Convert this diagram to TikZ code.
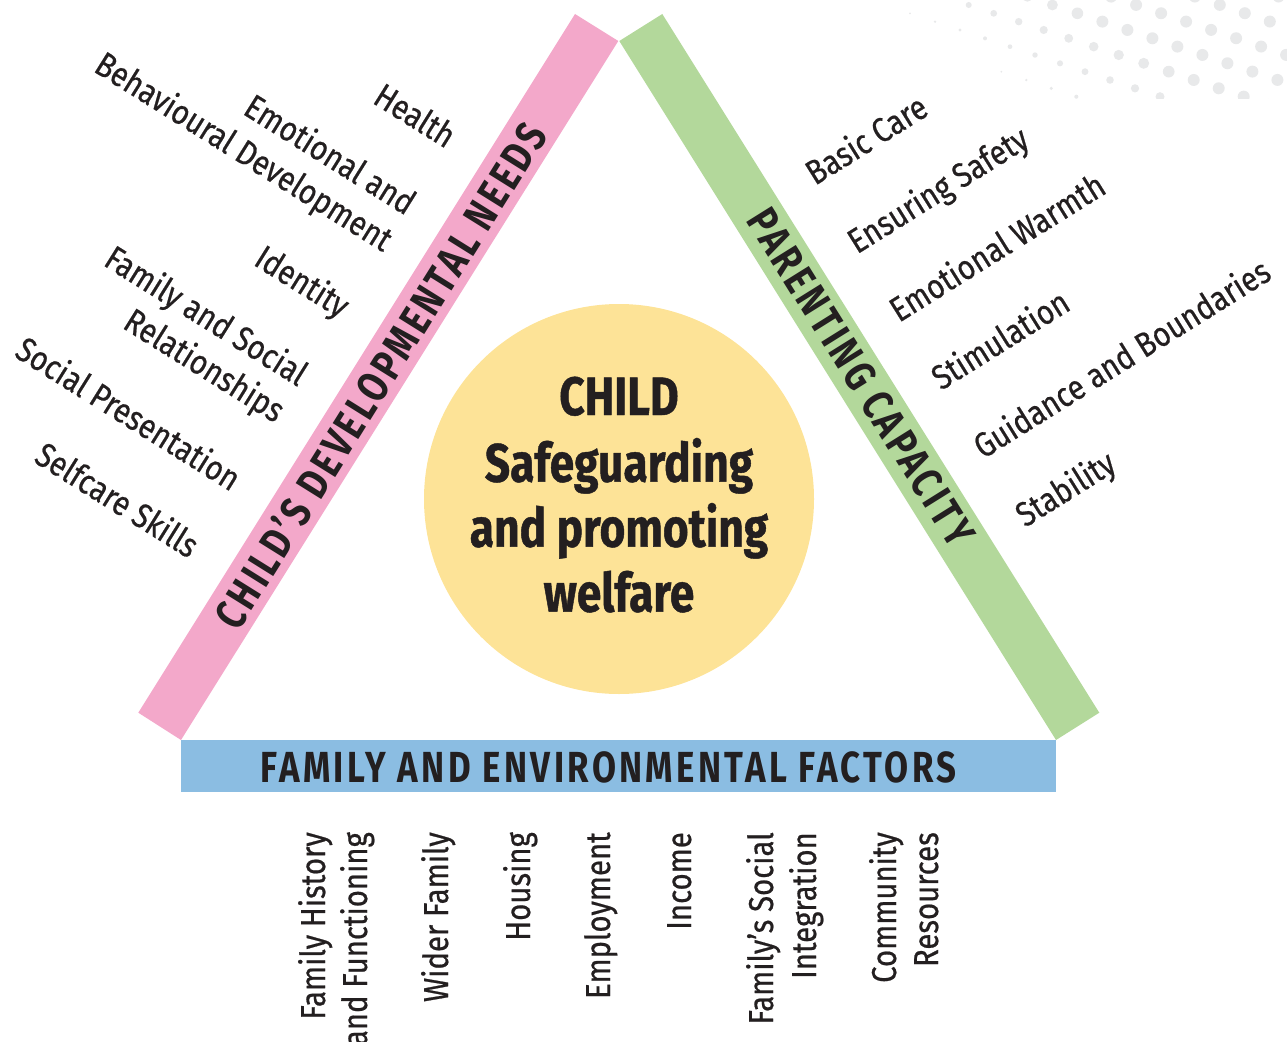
\documentclass[tikz,border=0pt]{standalone}
\usepackage{fontspec}
\setmainfont{Fira Sans}
\newfontfamily\labf{Fira Sans}[FakeStretch=0.85, FakeBold=0.6]
\newfontfamily\condb{Fira Sans}[FakeStretch=0.82, FakeBold=0.8]
\newfontfamily\capsb{Fira Sans}[FakeStretch=0.80, LetterSpace=7.8]
\definecolor{pinkbar}{HTML}{F3A8CA}
\definecolor{greenbar}{HTML}{B3D89B}
\definecolor{bluebar}{HTML}{8BBDE2}
\definecolor{sunfill}{HTML}{FDE397}
\definecolor{ink}{HTML}{231F20}
\definecolor{dotc}{HTML}{E8E9EA}
\begin{document}
\begin{tikzpicture}[x=1pt,y=-1pt,
  lbl/.style={font=\labf\fontsize{34.5}{40}\selectfont, text=ink, inner sep=0pt},
  leftlbl/.style={lbl, rotate=-32, anchor=base east},
  rightlbl/.style={lbl, rotate=32, anchor=base west},
  botlbl/.style={lbl, rotate=90, anchor=base east},
  bartext/.style={font=\capsb\bfseries\fontsize{43.5}{48}\selectfont, text=ink, inner sep=0pt},
  centertext/.style={font=\condb\bfseries\fontsize{54}{60}\selectfont, text=ink, inner sep=0pt, anchor=base}]
\path[use as bounding box] (0,0) rectangle (1287,1041);
% dotted halftone corner
\begin{scope}
\clip (880,0) rectangle (1287,98);
\foreach \i in {-3,...,16}{
  \foreach \j in {-3,...,7}{
    \pgfmathsetmacro\px{935+25*\i+33.7*\j}
    \pgfmathsetmacro\py{21.7+8.33*\i-16.7*\j}
    \pgfmathsetmacro\rr{min(6,1.3+0.355*\i+1.72*\j)}
    \ifdim\rr pt>0.9pt \fill[dotc] (\px,\py) circle[radius=\rr pt];\fi
  }
}
\end{scope}
% bars
\fill[pinkbar] (575,14) -- (618.3,41) -- (181,740) -- (138.3,712.7) -- cycle;
\fill[greenbar] (662.3,14) -- (619.3,41) -- (1056,740) -- (1099.3,712.7) -- cycle;
\fill[bluebar] (181,740) rectangle (1056,792);
\node[bartext, rotate=58, anchor=center] (cdn) at (380,375) {CHILD’S DEVELOPMENTAL NEEDS};
\node[bartext, rotate=-58] (pc) at (861,377) {PARENTING CAPACITY};
\node[bartext, anchor=base] (fef) at (608.8,782.3) {FAMILY AND ENVIRONMENTAL FACTORS};
% centre
\node[circle, fill=sunfill, minimum size=390pt, inner sep=0pt] (child) at (619,499) {};
\node[centertext] (c1) at (619,415) {CHILD};
\node[centertext] (c2) at (619,481.7) {Safeguarding};
\node[centertext] (c3) at (619,546.7) {and promoting};
\node[centertext] (c4) at (619,611.7) {welfare};
% left labels
\node[leftlbl] (l1) at (446,149) {Health};
\node[leftlbl] (l2a) at (406,216) {Emotional and};
\node[leftlbl] (l2b) at (383.2,252.5) {Behavioural Development};
\node[leftlbl] (l3) at (340,319) {Identity};
\node[leftlbl] (l4a) at (298,387) {Family and Social};
\node[leftlbl] (l4b) at (275.2,423.5) {Relationships};
\node[leftlbl] (l5) at (231,492) {Social Presentation};
\node[leftlbl] (l6) at (189,559) {Selfcare Skills};
% right labels
\node[rightlbl] (r1) at (815,186) {Basic Care};
\node[rightlbl] (r2) at (857,254.5) {Ensuring Safety};
\node[rightlbl] (r3) at (899,323) {Emotional Warmth};
\node[rightlbl] (r4) at (941,391) {Stimulation};
\node[rightlbl] (r5) at (983,459.5) {Guidance and Boundaries};
\node[rightlbl] (r6) at (1025,528) {Stability};
% bottom labels
\node[botlbl] (b1a) at (325,832) {Family History};
\node[botlbl] (b1b) at (367,832) {and Functioning};
\node[botlbl] (b2) at (448,832) {Wider Family};
\node[botlbl] (b3) at (530,832) {Housing};
\node[botlbl] (b4) at (610,832) {Employment};
\node[botlbl] (b5) at (691,832) {Income};
\node[botlbl] (b6a) at (773,832) {Family’s Social};
\node[botlbl] (b6b) at (816,832) {Integration};
\node[botlbl] (b7a) at (896,832) {Community};
\node[botlbl] (b7b) at (938,832) {Resources};
\end{tikzpicture}
\end{document}
